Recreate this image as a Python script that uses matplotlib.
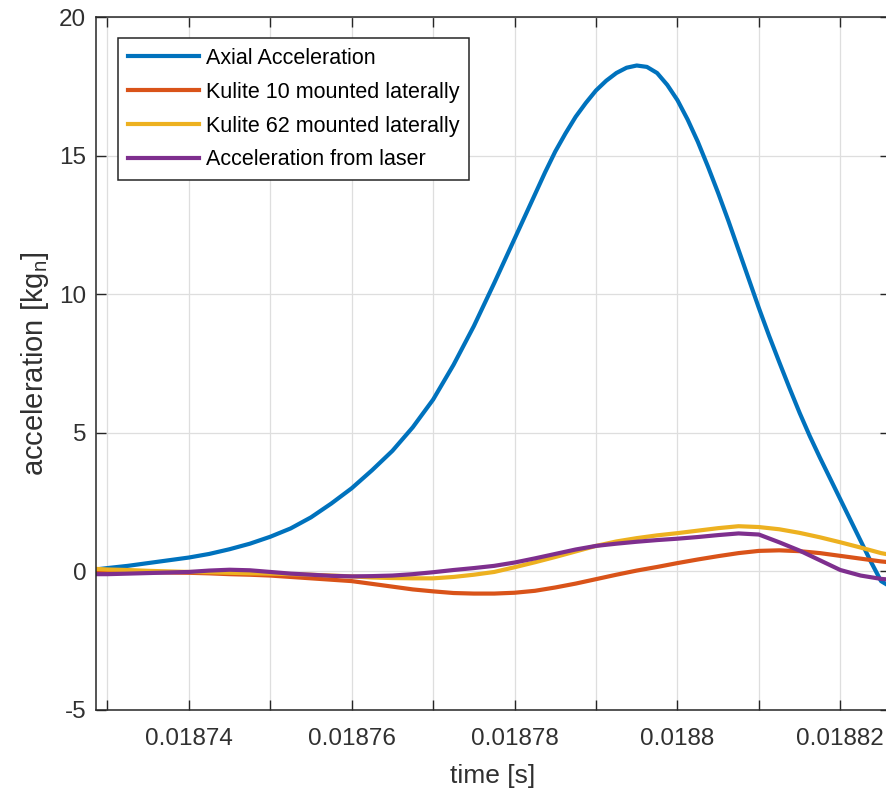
import matplotlib
matplotlib.use('Agg')
import matplotlib.pyplot as plt

plt.rcParams['font.family'] = ['Liberation Sans', 'DejaVu Sans']
plt.rcParams['mathtext.default'] = 'regular'
plt.rcParams['axes.unicode_minus'] = False

# 時間軸 [s]（横方向センサー・レーザー用）
time_s = [0.018728, 0.01873, 0.0187325, 0.018735, 0.0187375, 0.01874, 0.0187425,
          0.018745, 0.0187475, 0.01875, 0.0187525, 0.018755, 0.0187575, 0.01876,
          0.0187625, 0.018765, 0.0187675, 0.01877, 0.0187725, 0.018775, 0.0187775,
          0.01878, 0.0187825, 0.018785, 0.0187875, 0.01879, 0.0187925, 0.018795,
          0.0187975, 0.0188, 0.0188025, 0.018805, 0.0188075, 0.01881, 0.0188125,
          0.018815, 0.0188175, 0.01882, 0.0188225, 0.018825, 0.018827]

# 軸方向加速度はピーク付近を細かく読む
axial_time = [0.018728, 0.01873, 0.0187325, 0.018735, 0.0187375, 0.01874, 0.0187425,
              0.018745, 0.0187475, 0.01875, 0.0187525, 0.018755, 0.0187575, 0.01876,
              0.0187625, 0.018765, 0.0187675, 0.01877, 0.0187725, 0.018775, 0.0187775,
              0.01877875, 0.01878, 0.01878125, 0.0187825, 0.01878375, 0.018785,
              0.01878625, 0.0187875, 0.01878875, 0.01879, 0.01879125, 0.0187925,
              0.01879375, 0.018795, 0.01879625, 0.0187975, 0.01879875, 0.0188,
              0.01880125, 0.0188025, 0.01880375, 0.018805, 0.01880625, 0.0188075,
              0.01880875, 0.01881, 0.01881125, 0.0188125, 0.01881375, 0.018815,
              0.01881625, 0.0188175, 0.01881875, 0.01882, 0.01882125, 0.0188225,
              0.01882375, 0.018825, 0.018827]
axial = [0.05, 0.12, 0.2, 0.3, 0.4, 0.5, 0.63, 0.8, 1.0, 1.25, 1.55, 1.95, 2.45, 3.0,
         3.65, 4.35, 5.2, 6.2, 7.45, 8.85, 10.4,
         11.2, 12.0, 12.8, 13.6, 14.4, 15.15,
         15.8, 16.4, 16.9, 17.35, 17.7, 17.98,
         18.17, 18.25, 18.2, 17.98, 17.55, 17.0,
         16.3, 15.5, 14.6, 13.65, 12.65, 11.6,
         10.55, 9.5, 8.5, 7.55, 6.62, 5.72,
         4.88, 4.1, 3.35, 2.6, 1.85, 1.1,
         0.35, -0.35, -0.7]

# 各センサーの加速度 [kg_n]
kulite10 = [0.02, 0.0, -0.02, -0.03, -0.04, -0.05, -0.07, -0.1, -0.12, -0.15, -0.2,
            -0.25, -0.3, -0.35, -0.45, -0.55, -0.65, -0.72, -0.78, -0.8, -0.8, -0.77,
            -0.7, -0.58, -0.44, -0.28, -0.12, 0.03, 0.16, 0.3, 0.43, 0.55, 0.66, 0.74,
            0.76, 0.73, 0.66, 0.56, 0.46, 0.36, 0.3]
kulite62 = [0.1, 0.07, 0.05, 0.02, 0.0, -0.02, -0.03, -0.05, -0.07, -0.08, -0.1, -0.12,
            -0.15, -0.18, -0.22, -0.24, -0.25, -0.25, -0.2, -0.12, -0.02, 0.15, 0.33,
            0.52, 0.72, 0.92, 1.08, 1.2, 1.3, 1.38, 1.47, 1.56, 1.63, 1.6, 1.52, 1.39,
            1.23, 1.05, 0.86, 0.66, 0.55]
laser = [-0.1, -0.1, -0.08, -0.06, -0.04, -0.02, 0.03, 0.06, 0.04, -0.02, -0.08, -0.12,
         -0.16, -0.18, -0.17, -0.15, -0.1, -0.03, 0.05, 0.12, 0.2, 0.32, 0.47, 0.63,
         0.79, 0.92, 1.0, 1.07, 1.13, 1.18, 1.24, 1.31, 1.37, 1.33, 1.05, 0.75, 0.4,
         0.05, -0.15, -0.27, -0.32]

series_labels = ['Axial Acceleration', 'Kulite 10 mounted laterally',
                 'Kulite 62 mounted laterally', 'Acceleration from laser']
x_ticks = [0.01873, 0.01874, 0.01875, 0.01876, 0.01877, 0.01878, 0.01879,
           0.0188, 0.01881, 0.01882]
x_ticklabels = ['', '0.01874', '', '0.01876', '', '0.01878', '', '0.0188', '', '0.01882']
y_ticks = [-5, 0, 5, 10, 15, 20]

colors = ['#0072BD', '#D95319', '#EDB120', '#7E2F8E']
txt_color = '#303030'
W, H = 887, 796

fig = plt.figure(figsize=(W / 100, H / 100), dpi=100)
# 右端は画像の外まで伸びている
ax = fig.add_axes([96 / W, 1 - 710 / H, (890 - 96) / W, (710 - 17) / H])

ax.plot(axial_time, axial, color=colors[0], lw=3.0, label=series_labels[0],
        solid_joinstyle='round')
for ys, lab, c in zip([kulite10, kulite62, laser], series_labels[1:], colors[1:]):
    ax.plot(time_s, ys, color=c, lw=3.0, label=lab, solid_joinstyle='round')

ax.set_xlim(0.0187286, 0.0188261)
ax.set_ylim(-5, 20)
ax.set_xticks(x_ticks)
ax.set_xticklabels(x_ticklabels)
ax.set_yticks(y_ticks)

ax.grid(True, color='#dedede', lw=0.9)
ax.set_axisbelow(True)
ax.tick_params(direction='in', length=7, width=1, colors='#262626',
               labelcolor=txt_color, top=True, right=True, labelsize=17.5)
ax.tick_params(axis='x', pad=13)
ax.tick_params(axis='y', pad=7)
for s in ax.spines.values():
    s.set_color('#262626')
    s.set_linewidth(1.1)

ax.set_xlabel('time [s]', fontsize=19, color=txt_color, labelpad=10)
ax.set_ylabel('acceleration [kg$_{n}$]', fontsize=21, color=txt_color, labelpad=6)

leg = ax.legend(loc='upper left', bbox_to_anchor=((118 - 96) / 794, (710 - 38) / 693),
                borderaxespad=0, fancybox=False, framealpha=1, fontsize=15.5,
                handlelength=3.3, handletextpad=0.33, borderpad=0.45, labelspacing=0.6)
leg.get_frame().set_edgecolor('#262626')
leg.get_frame().set_linewidth(1.1)

fig.savefig('out.png', dpi=100)
